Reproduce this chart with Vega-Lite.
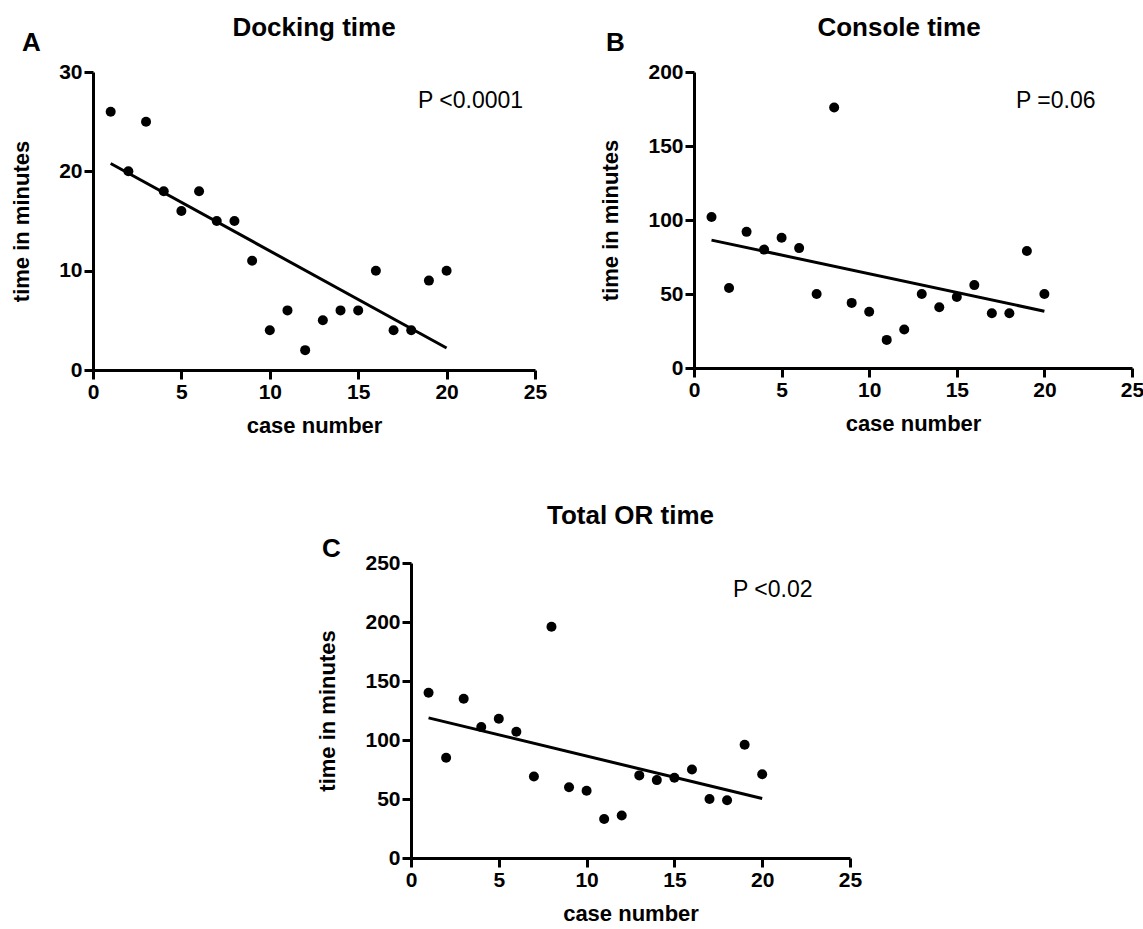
{
  "$schema": "https://vega.github.io/schema/vega-lite/v6.json",
  "background": "white",
  "padding": {"left": 10, "top": 14, "right": 5, "bottom": 5},
  "datasets": {
    "docking": [
      {"case": 1, "time": 26}, {"case": 2, "time": 20}, {"case": 3, "time": 25}, {"case": 4, "time": 18},
      {"case": 5, "time": 16}, {"case": 6, "time": 18}, {"case": 7, "time": 15}, {"case": 8, "time": 15},
      {"case": 9, "time": 11}, {"case": 10, "time": 4}, {"case": 11, "time": 6}, {"case": 12, "time": 2},
      {"case": 13, "time": 5}, {"case": 14, "time": 6}, {"case": 15, "time": 6}, {"case": 16, "time": 10},
      {"case": 17, "time": 4}, {"case": 18, "time": 4}, {"case": 19, "time": 9}, {"case": 20, "time": 10}
    ],
    "console": [
      {"case": 1, "time": 102}, {"case": 2, "time": 54}, {"case": 3, "time": 92}, {"case": 4, "time": 80},
      {"case": 5, "time": 88}, {"case": 6, "time": 81}, {"case": 7, "time": 50}, {"case": 8, "time": 176},
      {"case": 9, "time": 44}, {"case": 10, "time": 38}, {"case": 11, "time": 19}, {"case": 12, "time": 26},
      {"case": 13, "time": 50}, {"case": 14, "time": 41}, {"case": 15, "time": 48}, {"case": 16, "time": 56},
      {"case": 17, "time": 37}, {"case": 18, "time": 37}, {"case": 19, "time": 79}, {"case": 20, "time": 50}
    ],
    "total": [
      {"case": 1, "time": 140}, {"case": 2, "time": 85}, {"case": 3, "time": 135}, {"case": 4, "time": 111},
      {"case": 5, "time": 118}, {"case": 6, "time": 107}, {"case": 7, "time": 69}, {"case": 8, "time": 196},
      {"case": 9, "time": 60}, {"case": 10, "time": 57}, {"case": 11, "time": 33}, {"case": 12, "time": 36},
      {"case": 13, "time": 70}, {"case": 14, "time": 66}, {"case": 15, "time": 68}, {"case": 16, "time": 75},
      {"case": 17, "time": 50}, {"case": 18, "time": 49}, {"case": 19, "time": 96}, {"case": 20, "time": 71}
    ],
    "single": [{"k": 1}]
  },
  "spacing": 66,
  "vconcat": [
    {
      "bounds": "flush",
      "spacing": 159,
      "hconcat": [
        {
          "width": 442, "height": 298,
          "title": {"text": "Docking time", "offset": -11},
          "layer": [
            {
              "data": {"name": "docking"},
              "mark": {"type": "point", "filled": true, "size": 100, "color": "black", "opacity": 1},
              "encoding": {
                "x": {"field": "case", "type": "quantitative", "title": "case number",
                      "scale": {"domain": [0, 25], "nice": false, "zero": false},
                      "axis": {"values": [0, 5, 10, 15, 20, 25]}},
                "y": {"field": "time", "type": "quantitative", "title": "time in minutes",
                      "scale": {"domain": [0, 30], "nice": false, "zero": false},
                      "axis": {"values": [0, 10, 20, 30]}}
              }
            },
            {
              "data": {"name": "docking"},
              "transform": [{"regression": "time", "on": "case"}],
              "mark": {"type": "line", "color": "black", "strokeWidth": 3},
              "encoding": {
                "x": {"field": "case", "type": "quantitative", "title": "case number"},
                "y": {"field": "time", "type": "quantitative", "title": "time in minutes"}
              }
            },
            {
              "data": {"name": "single"},
              "mark": {"type": "text", "align": "left", "baseline": "alphabetic", "fontSize": 23, "font": "Liberation Sans", "color": "black"},
              "encoding": {
                "x": {"datum": 18.38, "type": "quantitative", "title": "case number"},
                "y": {"datum": 26.38, "type": "quantitative", "title": "time in minutes"},
                "text": {"value": "P <0.0001"}
              }
            },
            {
              "data": {"name": "single"},
              "mark": {"type": "text", "align": "left", "baseline": "alphabetic", "fontSize": 26, "fontWeight": "bold", "font": "Liberation Sans", "color": "black"},
              "encoding": {
                "x": {"datum": -4.02, "type": "quantitative", "title": "case number"},
                "y": {"datum": 32.1, "type": "quantitative", "title": "time in minutes"},
                "text": {"value": "A"}
              }
            }
          ]
        },
        {
          "width": 438, "height": 296,
          "title": {"text": "Console time", "offset": -11, "dx": -14},
          "layer": [
            {
              "data": {"name": "console"},
              "mark": {"type": "point", "filled": true, "size": 100, "color": "black", "opacity": 1},
              "encoding": {
                "x": {"field": "case", "type": "quantitative", "title": "case number",
                      "scale": {"domain": [0, 25], "nice": false, "zero": false},
                      "axis": {"values": [0, 5, 10, 15, 20, 25]}},
                "y": {"field": "time", "type": "quantitative", "title": "time in minutes",
                      "scale": {"domain": [0, 200], "nice": false, "zero": false},
                      "axis": {"values": [0, 50, 100, 150, 200]}}
              }
            },
            {
              "data": {"name": "console"},
              "transform": [{"regression": "time", "on": "case"}],
              "mark": {"type": "line", "color": "black", "strokeWidth": 3},
              "encoding": {
                "x": {"field": "case", "type": "quantitative", "title": "case number"},
                "y": {"field": "time", "type": "quantitative", "title": "time in minutes"}
              }
            },
            {
              "data": {"name": "single"},
              "mark": {"type": "text", "align": "left", "baseline": "alphabetic", "fontSize": 23, "font": "Liberation Sans", "color": "black"},
              "encoding": {
                "x": {"datum": 18.38, "type": "quantitative", "title": "case number"},
                "y": {"datum": 175.7, "type": "quantitative", "title": "time in minutes"},
                "text": {"value": "P =0.06"}
              }
            },
            {
              "data": {"name": "single"},
              "mark": {"type": "text", "align": "left", "baseline": "alphabetic", "fontSize": 26, "fontWeight": "bold", "font": "Liberation Sans", "color": "black"},
              "encoding": {
                "x": {"datum": -5.02, "type": "quantitative", "title": "case number"},
                "y": {"datum": 214.2, "type": "quantitative", "title": "time in minutes"},
                "text": {"value": "B"}
              }
            }
          ]
        }
      ]
    },
    {
      "bounds": "flush",
      "spacing": 20,
      "hconcat": [
        {
          "width": 298, "height": 295,
          "data": {"values": []},
          "mark": "point",
          "encoding": {}
        },
        {
          "width": 439, "height": 295,
          "title": {"text": "Total OR time", "offset": 7},
          "layer": [
            {
              "data": {"name": "total"},
              "mark": {"type": "point", "filled": true, "size": 100, "color": "black", "opacity": 1},
              "encoding": {
                "x": {"field": "case", "type": "quantitative", "title": "case number",
                      "scale": {"domain": [0, 25], "nice": false, "zero": false},
                      "axis": {"values": [0, 5, 10, 15, 20, 25]}},
                "y": {"field": "time", "type": "quantitative", "title": "time in minutes",
                      "scale": {"domain": [0, 250], "nice": false, "zero": false},
                      "axis": {"values": [0, 50, 100, 150, 200, 250]}}
              }
            },
            {
              "data": {"name": "total"},
              "transform": [{"regression": "time", "on": "case"}],
              "mark": {"type": "line", "color": "black", "strokeWidth": 3},
              "encoding": {
                "x": {"field": "case", "type": "quantitative", "title": "case number"},
                "y": {"field": "time", "type": "quantitative", "title": "time in minutes"}
              }
            },
            {
              "data": {"name": "single"},
              "mark": {"type": "text", "align": "left", "baseline": "alphabetic", "fontSize": 23, "font": "Liberation Sans", "color": "black"},
              "encoding": {
                "x": {"datum": 18.34, "type": "quantitative", "title": "case number"},
                "y": {"datum": 221.2, "type": "quantitative", "title": "time in minutes"},
                "text": {"value": "P <0.02"}
              }
            },
            {
              "data": {"name": "single"},
              "mark": {"type": "text", "align": "left", "baseline": "alphabetic", "fontSize": 26, "fontWeight": "bold", "font": "Liberation Sans", "color": "black"},
              "encoding": {
                "x": {"datum": -5.07, "type": "quantitative", "title": "case number"},
                "y": {"datum": 255.1, "type": "quantitative", "title": "time in minutes"},
                "text": {"value": "C"}
              }
            }
          ]
        }
      ]
    }
  ],
  "config": {
    "view": {"stroke": null},
    "font": "Liberation Sans",
    "axis": {
      "grid": false,
      "domainColor": "black", "domainWidth": 3,
      "tickColor": "black", "tickWidth": 3, "tickSize": 9,
      "labelColor": "black", "labelFont": "Liberation Sans", "labelFontSize": 21, "labelFontWeight": "bold", "labelPadding": 2,
      "titleColor": "black", "titleFont": "Liberation Sans", "titleFontSize": 22, "titleFontWeight": "bold"
    },
    "axisX": {"titlePadding": 13, "labelFlush": false},
    "axisY": {"titlePadding": 25, "labelFlush": false},
    "title": {"font": "Liberation Sans", "fontSize": 26, "fontWeight": "bold", "color": "black", "anchor": "middle", "baseline": "alphabetic"}
  }
}
